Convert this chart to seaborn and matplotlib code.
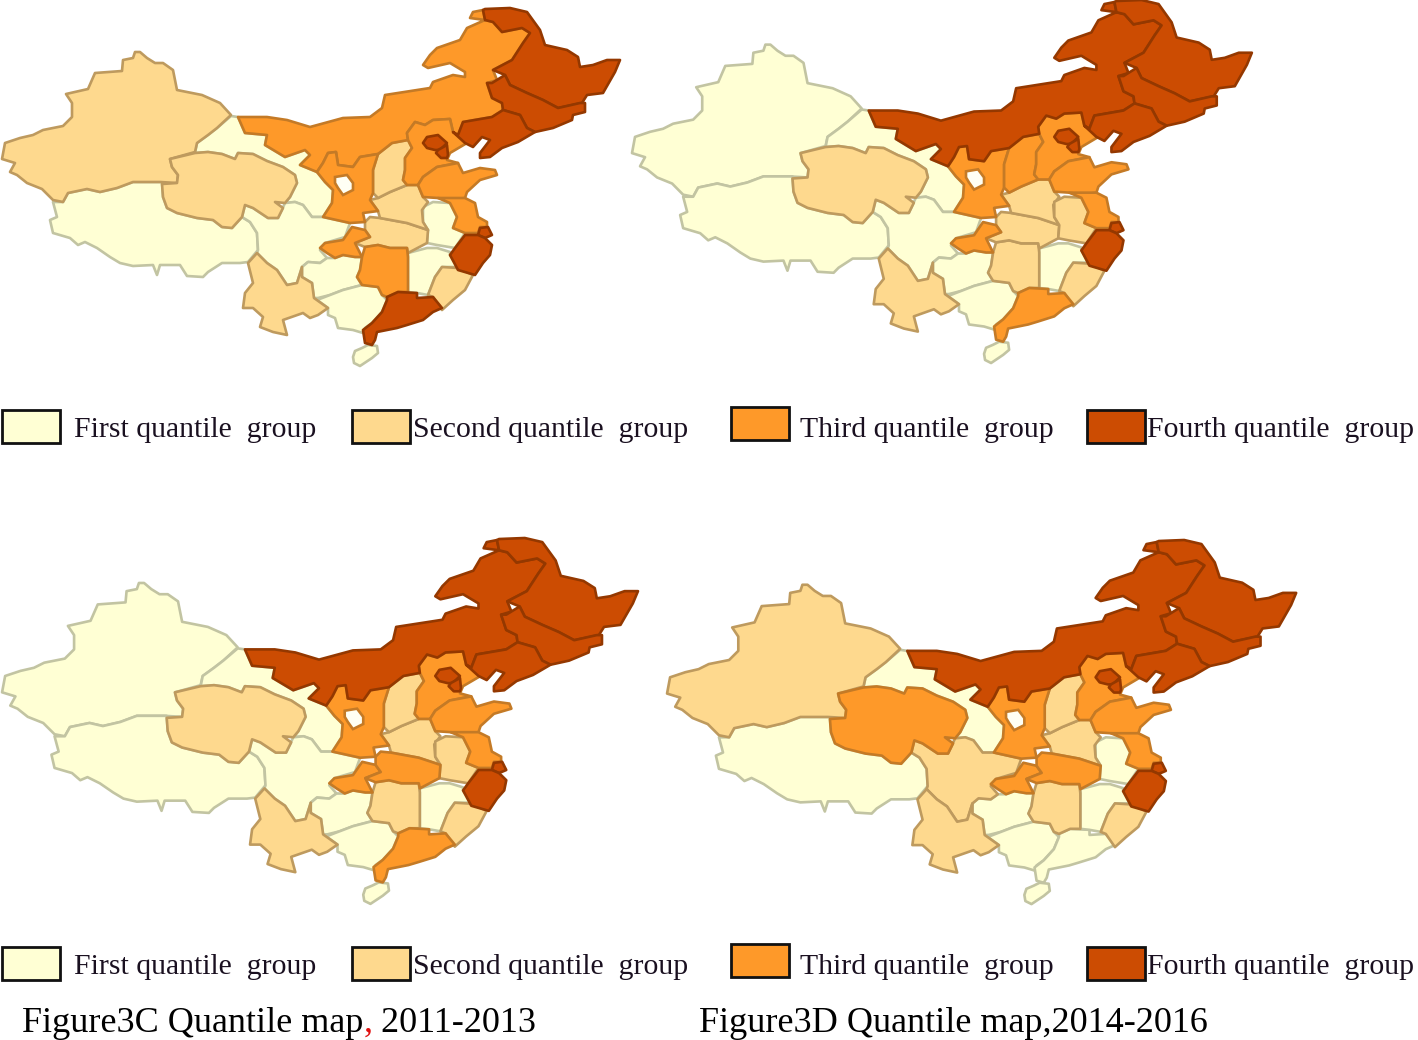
import matplotlib
matplotlib.use("Agg")
import matplotlib.pyplot as plt
from matplotlib.patches import Rectangle
import seaborn as sns

# province outlines (pixels of that map)
xinjiang = [(140,52),(147,58),(155,63),(163,63),(173,70),(177,90),(202,95),(220,103),(231,115),(217,128),(208,135),(197,143),(195,152),(170,159),(172,167),(178,175),(177,183),(160,182),(133,182),(117,188),(100,192),(87,189),(68,193),(63,202),(53,200),(42,189),(27,183),(17,175),(10,172),(15,163),(2,159),(5,143),(20,138),(33,135),(43,130),(63,126),(72,117),(72,103),(66,94),(88,89),(95,73),(122,71),(123,60),(133,58),(135,52)]
qinghai = [(170,159),(195,153),(208,152),(222,154),(235,159),(238,153),(253,154),(267,161),(283,167),(295,175),(297,183),(290,197),(285,203),(275,202),(283,208),(278,218),(268,218),(253,208),(245,205),(242,217),(232,228),(222,227),(213,220),(197,218),(177,213),(167,208),(163,197),(162,184),(177,183),(178,175),(172,167)]
tibet = [(53,202),(63,202),(68,193),(87,189),(100,192),(117,188),(133,182),(162,182),(163,197),(167,208),(177,213),(197,218),(213,220),(222,227),(232,228),(242,217),(250,222),(257,233),(258,250),(248,262),(240,263),(222,263),(208,272),(203,277),(187,276),(180,265),(160,265),(157,275),(153,265),(133,266),(120,263),(110,257),(97,248),(85,242),(78,245),(70,238),(53,233),(50,220),(57,217)]
gansu = [(231,116),(238,117),(245,133),(267,135),(265,145),(285,157),(305,150),(310,155),(300,165),(317,172),(325,182),(333,190),(332,203),(323,217),(312,217),(303,205),(295,202),(285,203),(290,197),(297,183),(295,175),(283,167),(267,161),(253,154),(238,153),(235,159),(222,154),(208,152),(195,153),(197,143),(208,135),(217,128)]
inner_mongolia = [(238,117),(245,133),(267,135),(265,145),(285,157),(305,150),(310,155),(300,165),(317,172),(323,163),(328,153),(336,152),(338,165),(353,167),(360,157),(378,154),(392,143),(408,140),(407,133),(415,122),(425,125),(433,120),(450,119),(453,132),(458,135),(463,122),(492,117),(503,110),(502,103),(492,98),(487,83),(497,80),(493,70),(512,60),(523,43),(530,33),(522,28),(502,32),(493,22),(485,20),(470,18),(473,12),(483,10),(485,20),(467,28),(460,40),(437,48),(430,55),(423,65),(428,68),(450,63),(465,72),(465,77),(453,75),(433,82),(430,88),(385,95),(382,108),(370,117),(343,118),(310,127),(287,120),(267,117)]
heilongjiang = [(485,9),(510,8),(527,12),(540,30),(545,45),(567,50),(578,57),(580,67),(593,65),(607,60),(620,60),(615,72),(603,93),(587,95),(582,103),(558,108),(543,100),(527,93),(510,85),(505,75),(493,70),(512,60),(523,43),(530,33),(522,28),(502,32),(493,22),(485,20),(483,10)]
jilin = [(487,83),(492,83),(505,75),(510,85),(527,93),(543,100),(558,108),(580,103),(585,103),(585,112),(573,115),(572,120),(553,128),(535,132),(527,128),(520,115),(503,110),(502,103),(492,98)]
liaoning = [(458,135),(463,122),(492,117),(503,110),(520,115),(527,128),(535,132),(518,142),(502,148),(490,157),(480,158),(480,153),(490,140),(482,137),(473,147),(465,143),(453,132)]
shaanxi = [(317,172),(323,163),(328,153),(336,152),(338,165),(353,167),(360,157),(378,154),(373,170),(373,193),(370,200),(378,211),(363,213),(365,222),(350,223),(323,217),(332,203),(333,190),(325,182)]
ningxia_hole = [(335,177),(347,175),(353,183),(353,190),(343,195),(338,188),(335,183)]
sichuan = [(242,217),(245,205),(253,208),(268,218),(278,218),(285,203),(295,202),(303,205),(312,217),(323,217),(350,223),(345,237),(325,243),(320,250),(327,258),(320,263),(308,262),(302,267),(297,283),(287,285),(277,270),(267,263),(257,253),(258,250),(257,233),(250,222)]
chongqing = [(320,248),(325,243),(343,240),(352,227),(365,230),(370,237),(355,243),(362,257),(355,257),(343,255),(335,258),(327,253)]
yunnan = [(257,253),(267,263),(277,270),(287,285),(297,283),(302,267),(302,277),(312,283),(314,298),(328,308),(318,315),(310,318),(303,313),(283,320),(287,335),(273,332),(260,327),(263,317),(253,308),(243,308),(245,293),(253,283),(248,263)]
guizhou = [(302,267),(308,262),(320,263),(327,258),(335,258),(343,255),(355,257),(362,257),(360,270),(357,277),(362,285),(343,290),(330,295),(318,298),(314,298),(312,283),(302,277)]
guangxi = [(317,300),(330,295),(343,290),(362,285),(378,287),(382,295),(387,300),(382,312),(372,323),(365,328),(363,333),(353,330),(338,328),(335,318),(328,315),(328,308)]
guangdong = [(387,297),(398,292),(417,293),(417,298),(433,297),(442,308),(433,312),(423,320),(407,325),(397,328),(377,332),(375,340),(372,345),(365,343),(363,330),(372,323),(382,312),(387,300)]
hainan = [(353,357),(355,351),(362,348),(368,345),(377,346),(378,353),(372,358),(366,362),(360,366),(354,363)]
hunan = [(365,247),(378,245),(390,248),(407,248),(408,257),(408,292),(398,292),(387,297),(382,295),(378,287),(362,285),(357,277),(360,270),(362,257)]
hubei = [(370,217),(380,218),(407,223),(428,230),(427,243),(408,253),(407,248),(390,248),(378,245),(365,247),(355,243),(370,237),(365,230),(365,222)]
henan = [(378,198),(390,192),(407,185),(418,185),(423,197),(428,202),(422,210),(423,222),(428,230),(407,223),(380,218),(378,211),(370,200)]
shanxi = [(378,154),(392,143),(408,140),(412,148),(405,158),(405,170),(403,180),(407,185),(390,192),(378,198),(373,193),(373,170)]
hebei = [(408,140),(407,133),(415,122),(425,125),(433,120),(450,119),(453,132),(467,143),(450,153),(447,160),(458,163),(437,167),(423,177),(418,185),(407,185),(403,180),(405,170),(405,158),(412,148)]
beijing = [(423,143),(427,137),(438,135),(447,143),(440,150),(435,150),(427,148)]
tianjin = [(438,150),(447,145),(448,155),(447,158),(441,158),(436,153)]
shandong = [(423,177),(437,167),(458,163),(463,173),(480,168),(495,170),(497,175),(480,180),(467,192),(465,198),(450,200),(438,198),(423,197),(418,185)]
jiangsu = [(438,198),(465,198),(475,203),(478,217),(487,222),(487,227),(480,227),(478,233),(465,233),(453,228),(457,217),(450,203)]
shanghai = [(480,228),(488,227),(492,235),(485,238),(478,235)]
anhui = [(423,207),(433,202),(450,203),(457,217),(453,228),(465,233),(455,248),(437,245),(427,243),(428,230),(423,222)]
zhejiang = [(465,235),(478,235),(485,238),(492,245),(490,255),(483,263),(475,275),(458,270),(450,255),(455,248)]
jiangxi = [(408,253),(427,248),(437,248),(450,252),(450,255),(458,267),(442,267),(435,277),(428,295),(417,293),(408,292),(408,257)]
fujian = [(442,267),(458,268),(473,275),(465,290),(453,300),(442,310),(433,297),(428,295),(435,277)]

province_names = ["xinjiang", "qinghai", "tibet", "gansu", "inner_mongolia", "heilongjiang", "jilin", "liaoning", "shaanxi", "sichuan", "chongqing", "yunnan", "guizhou", "guangxi", "guangdong", "hainan", "hunan", "hubei", "henan", "shanxi", "hebei", "beijing", "tianjin", "shandong", "jiangsu", "shanghai", "anhui", "zhejiang", "jiangxi", "fujian"]
outlines = [xinjiang, qinghai, tibet, gansu, inner_mongolia, heilongjiang, jilin, liaoning, shaanxi, sichuan, chongqing, yunnan, guizhou, guangxi, guangdong, hainan, hunan, hubei, henan, shanxi, hebei, beijing, tianjin, shandong, jiangsu, shanghai, anhui, zhejiang, jiangxi, fujian]

# quantile group of each province (same order as province_names), per map
groups_a = [2, 2, 1, 1, 3, 4, 4, 4, 3, 1, 3, 2, 1, 1, 4, 1, 3, 2, 2, 2, 3, 4, 4, 3, 3, 4, 1, 4, 1, 2]
groups_b = [1, 2, 1, 1, 4, 4, 4, 4, 3, 1, 3, 2, 1, 1, 3, 1, 2, 2, 2, 3, 3, 4, 4, 3, 3, 4, 2, 4, 1, 2]
groups_c = [1, 2, 1, 1, 4, 4, 4, 4, 3, 1, 3, 2, 1, 1, 3, 1, 2, 3, 2, 2, 3, 4, 4, 3, 3, 4, 2, 4, 1, 2]
groups_d = [2, 3, 1, 1, 4, 4, 4, 4, 3, 2, 3, 2, 1, 1, 1, 1, 2, 3, 2, 2, 3, 4, 4, 3, 3, 4, 1, 4, 1, 2]

legend_labels = ["First quantile  group", "Second quantile  group", "Third quantile  group", "Fourth quantile  group"]
caption_c = ["Figure3C Quantile map", ",", " 2011-2013"]
caption_d = "Figure3D Quantile map,2014-2016"

sns.set_theme(style="white")
plt.rcParams["font.family"] = ["Liberation Serif", "DejaVu Serif"]

fills = sns.color_palette(["#FFFFD4", "#FED98E", "#FE9929", "#CC4C02"])
edges = sns.color_palette(["#C2C4A2", "#BE9A5E", "#C47A26", "#943800"])

W, H = 1418, 1040
fig = plt.figure(figsize=(W / 100, H / 100), dpi=100, facecolor="white")

# background axes in figure pixels for legends and captions
bg = fig.add_axes([0, 0, 1, 1])
bg.set_xlim(0, W)
bg.set_ylim(H, 0)
bg.axis("off")


def draw_map(left, top, sx, sy, groups):
    # template is 625 x 370 starting at y=8, stretched a bit for each map
    tw, th = 625, 370
    ax = fig.add_axes([left / W, 1 - (top + (th - 8) * sy) / H, tw * sx / W, (th - 8) * sy / H])
    ax.set_xlim(0, tw)
    ax.set_ylim(th, 8)
    ax.axis("off")
    ax.patch.set_alpha(0)
    order = sorted(range(len(outlines)), key=lambda i: groups[i])
    for i in order:
        g = groups[i] - 1
        xs, ys = zip(*outlines[i])
        ax.fill(xs, ys, facecolor=fills[g], edgecolor=edges[g], linewidth=1.9, joinstyle="round", clip_on=False)
    xs, ys = zip(*ningxia_hole)
    ax.fill(xs, ys, facecolor="#FFFFF4", edgecolor=edges[2], linewidth=1.9, clip_on=False)


draw_map(0, 8, 1.0, 1.0, groups_a)
draw_map(630, 0, 1.003, 1.014, groups_b)
draw_map(0, 538, 1.029, 1.022, groups_c)
draw_map(665, 540, 1.018, 1.017, groups_d)

box_x = [2, 352, 731, 1087]
box_shift = [0, 0, -3, 0]
label_x = [74, 413, 800, 1147]
for row_top, row_base in [(410, 437), (947, 974)]:
    for k in range(4):
        bg.add_patch(Rectangle((box_x[k], row_top + box_shift[k]), 58, 33, facecolor=fills[k], edgecolor="#111111", linewidth=2))
        bg.text(label_x[k], row_base, legend_labels[k], fontsize=21.4, color="#1A1020", ha="left", va="baseline")

bg.text(22, 1032, caption_c[0], fontsize=26, color="black", ha="left", va="baseline")
bg.text(364, 1032, caption_c[1], fontsize=26, color="#E01010", ha="left", va="baseline")
bg.text(372, 1032, caption_c[2], fontsize=26, color="black", ha="left", va="baseline")
bg.text(699, 1032, caption_d, fontsize=26, color="black", ha="left", va="baseline")

fig.savefig("out.png", dpi=100)
